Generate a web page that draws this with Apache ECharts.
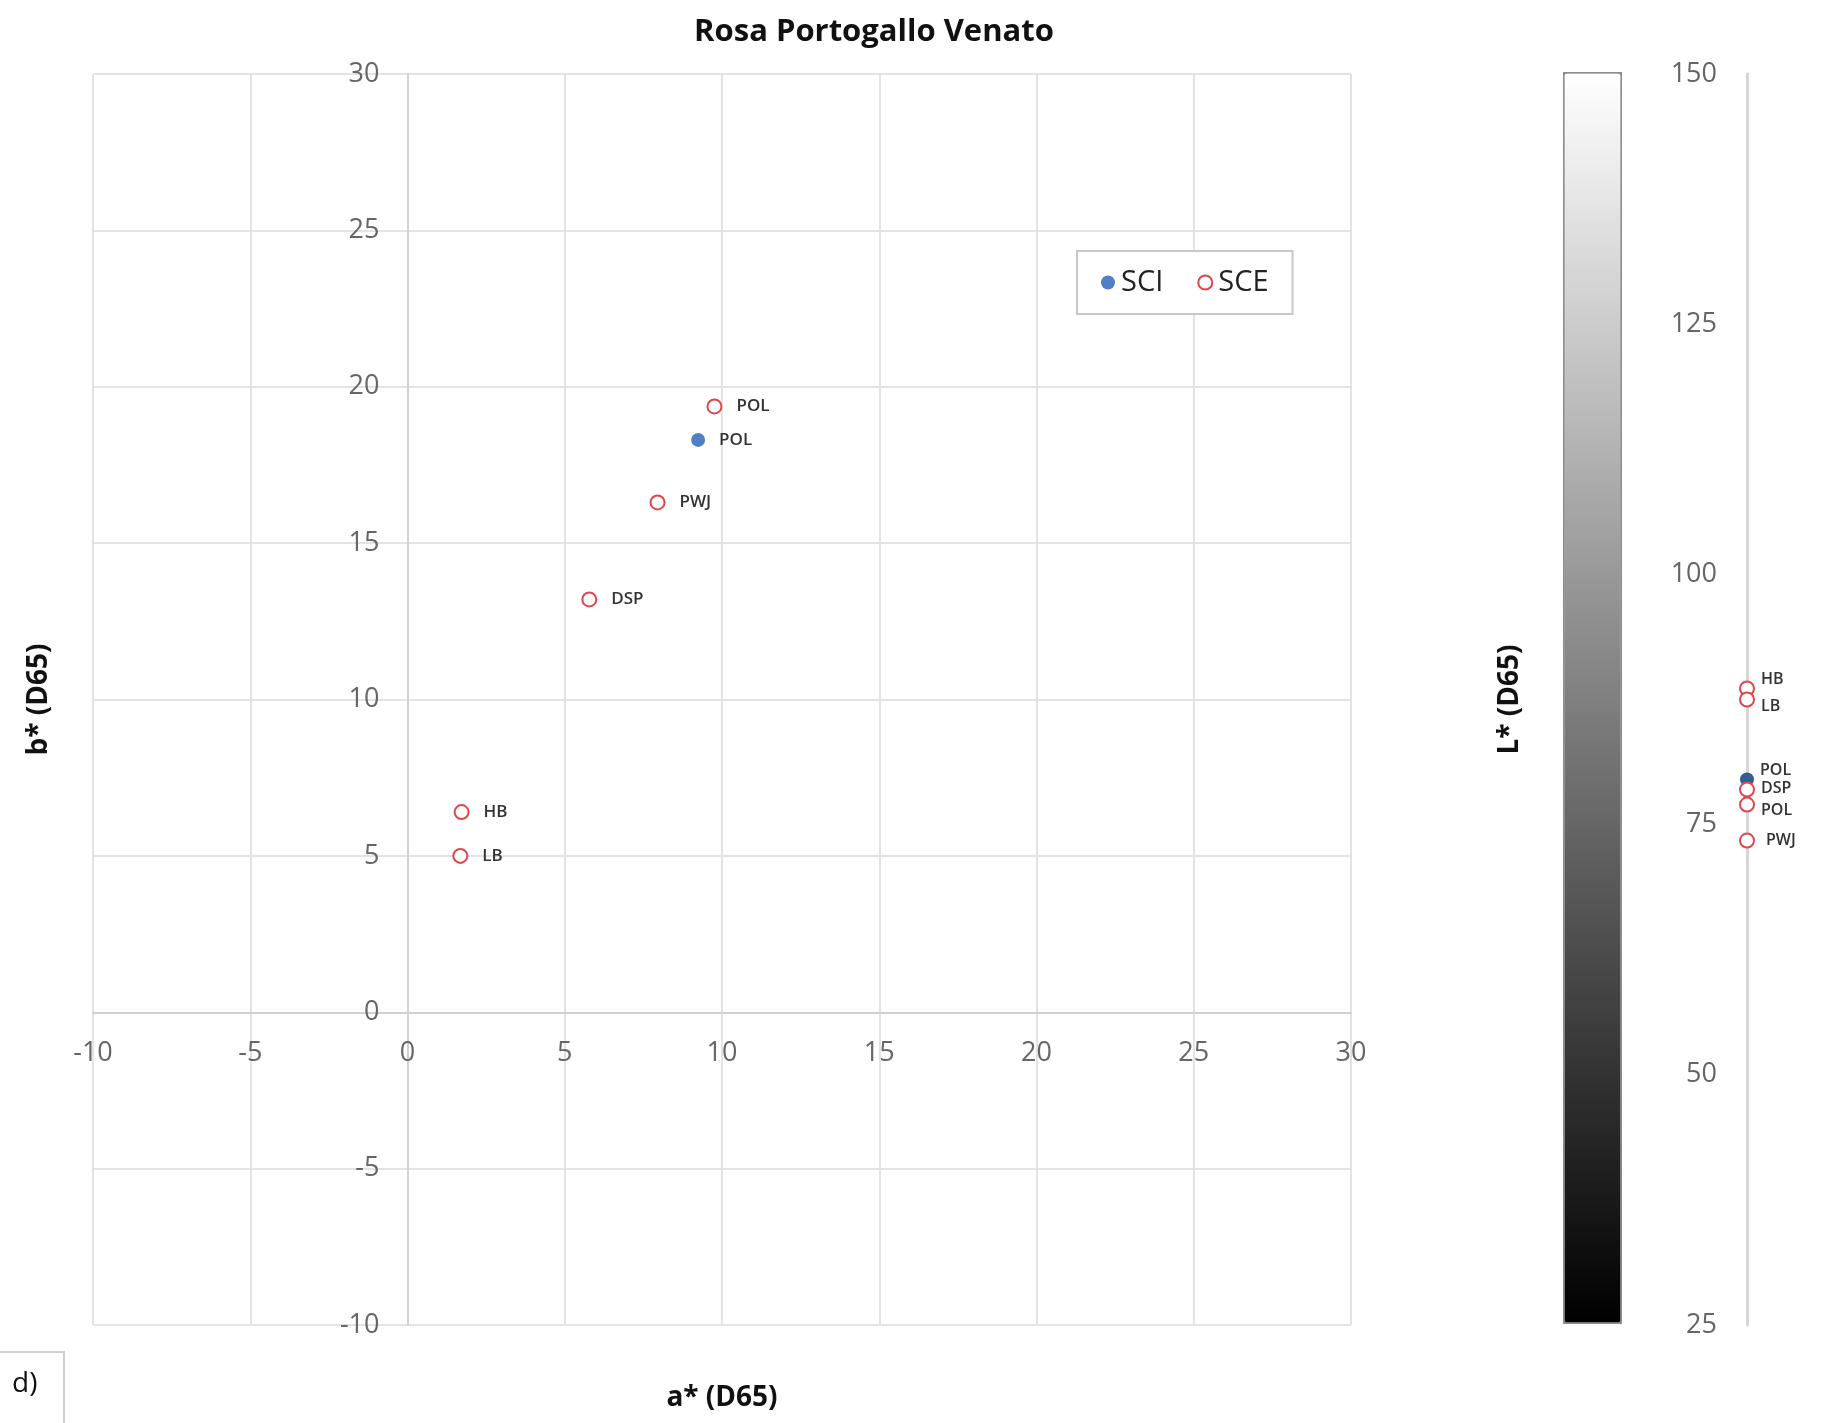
<!DOCTYPE html>
<html>
<head>
<meta charset="utf-8">
<script src="https://cdn.jsdelivr.net/npm/echarts@6/dist/echarts.min.js"></script>
<style>
html,body{margin:0;padding:0;background:#fff;}
#chart{width:1822px;height:1423px;}
</style>
</head>
<body>
<div id="chart"></div>
<script>
// ---- data ----
var sciLabels = ['POL'];
var sciA = [9.24];
var sciB = [18.3];
var sciL = [79.5];

var sceLabels = ['POL', 'PWJ', 'DSP', 'HB', 'LB'];
var sceA = [9.76, 7.95, 5.78, 1.72, 1.68];
var sceB = [19.37, 16.3, 13.2, 6.4, 5.0];
var sceL = [77.0, 73.4, 78.5, 88.6, 87.5];

var abTicks = [-10, -5, 0, 5, 10, 15, 20, 25, 30];
var lTicks = [25, 50, 75, 100, 125, 150];

// ---- styles (label offsets on the L* axis) ----
var sciLShift = {POL: [0, -9]};
var sceLShift = {POL: [0, 6], PWJ: [5, 0], DSP: [0, -1], HB: [0, -9], LB: [0, 7]};

var FONT = '"Open Sans", sans-serif';
var RED = '#e0474c';
var BLUE = '#4f7fc4';

// layout of the a*/b* plot (pixels)
var G_LEFT = 93, G_RIGHT = 471, G_TOP = 74, G_BOTTOM = 98, W = 1822, H = 1423;
var plotW = W - G_LEFT - G_RIGHT, plotH = H - G_TOP - G_BOTTOM;
var aMin = abTicks[0], aMax = abTicks[abTicks.length - 1];
// axes crossing at zero: shift axis lines in from the grid edges
var yAxisShift = -plotW * (0 - aMin) / (aMax - aMin);
var xAxisShift = -plotH * (0 - aMin) / (aMax - aMin);

function abData(labels, a, b) {
  return labels.map(function (n, i) { return {value: [a[i], b[i]], name: n}; });
}
function lData(labels, l, shift) {
  return labels.map(function (n, i) {
    return {value: [0, l[i]], name: n, label: {offset: shift[n] || [0, 0]}};
  });
}

var ptLabel = {
  show: true, position: 'right', distance: 14,
  formatter: function (p) { return p.name; },
  fontFamily: FONT, fontSize: 17, fontWeight: 600, color: '#333'
};
var lLabel = {
  show: true, position: 'right', distance: 6,
  formatter: function (p) { return p.name; },
  fontFamily: FONT, fontSize: 16, fontWeight: 600, color: '#333'
};

var chart = echarts.init(document.getElementById('chart'));
chart.setOption({
  backgroundColor: '#fff',
  animation: false,
  title: {
    text: 'Rosa Portogallo Venato', left: 869, textAlign: 'center', top: 12,
    textStyle: {fontFamily: FONT, fontSize: 31, fontWeight: 'bold', color: '#111'}
  },
  legend: {
    data: ['SCI', 'SCE'],
    left: 1077, top: 251,
    padding: [17, 24, 17, 24],
    itemGap: 34, itemWidth: 16, itemHeight: 14,
    borderColor: '#c8c8c8', borderWidth: 2, backgroundColor: '#fff',
    textStyle: {fontFamily: FONT, fontSize: 29, color: '#222'}
  },
  grid: [
    {left: G_LEFT, right: G_RIGHT, top: G_TOP, bottom: G_BOTTOM, containLabel: false, outerBoundsMode: 'none'},
    {left: 1743, width: 8, top: 74, bottom: 98, containLabel: false, outerBoundsMode: 'none'}
  ],
  xAxis: [
    {
      type: 'value', gridIndex: 0, min: aMin, max: aMax, interval: 5,
      position: 'bottom', offset: xAxisShift,
      name: 'a* (D65)', nameLocation: 'middle', nameGap: 372,
      nameTextStyle: {fontFamily: FONT, fontSize: 28, fontWeight: 'bold', color: '#111'},
      axisLine: {onZero: false, lineStyle: {color: '#d0d0d0', width: 2}},
      axisTick: {show: false},
      axisLabel: {margin: 28, fontFamily: FONT, fontSize: 27, color: '#666'},
      splitLine: {show: true, lineStyle: {color: '#e3e3e3', width: 2}}
    },
    {
      type: 'value', gridIndex: 1, min: -1, max: 1,
      show: false
    }
  ],
  yAxis: [
    {
      type: 'value', gridIndex: 0, min: aMin, max: aMax, interval: 5,
      position: 'left', offset: yAxisShift,
      name: 'b* (D65)', nameLocation: 'middle', nameGap: 354,
      nameTextStyle: {fontFamily: FONT, fontSize: 28, fontWeight: 'bold', color: '#111'},
      axisLine: {onZero: false, lineStyle: {color: '#d0d0d0', width: 2}},
      axisTick: {show: false},
      axisLabel: {margin: 28, fontFamily: FONT, fontSize: 27, color: '#666'},
      splitLine: {show: true, lineStyle: {color: '#e3e3e3', width: 2}}
    },
    {
      type: 'value', gridIndex: 1, min: lTicks[0], max: lTicks[lTicks.length - 1], interval: 25,
      name: 'L* (D65)', nameLocation: 'middle', nameGap: 219,
      nameTextStyle: {fontFamily: FONT, fontSize: 28, fontWeight: 'bold', color: '#111'},
      axisLine: {show: true, lineStyle: {color: '#d6d6d6', width: 3}},
      axisTick: {show: false},
      axisLabel: {margin: 26, fontFamily: FONT, fontSize: 27, color: '#666'},
      splitLine: {show: false}
    }
  ],
  visualMap: {
    type: 'continuous',
    min: lTicks[0], max: lTicks[lTicks.length - 1],
    seriesIndex: 4,
    calculable: false,
    left: 1563, top: 72,
    itemWidth: 56, itemHeight: 1249,
    padding: 0,
    borderColor: '#8c8c8c', borderWidth: 3,
    inRange: {color: ['#000000', '#ffffff']},
    text: null,
    showLabel: false
  },
  series: [
    {
      name: 'SCI', type: 'scatter', xAxisIndex: 0, yAxisIndex: 0,
      symbol: 'circle', symbolSize: 14,
      itemStyle: {color: BLUE, opacity: 1},
      label: ptLabel,
      data: abData(sciLabels, sciA, sciB), z: 3
    },
    {
      name: 'SCE', type: 'scatter', xAxisIndex: 0, yAxisIndex: 0,
      symbol: 'emptyCircle', symbolSize: 14,
      itemStyle: {color: RED, borderWidth: 2, opacity: 1},
      label: ptLabel,
      data: abData(sceLabels, sceA, sceB), z: 4
    },
    {
      name: 'SCI', type: 'scatter', xAxisIndex: 1, yAxisIndex: 1,
      symbol: 'circle', symbolSize: 14,
      itemStyle: {color: '#2f5f96', opacity: 1},
      label: lLabel,
      data: lData(sciLabels, sciL, sciLShift), z: 3
    },
    {
      name: 'SCE', type: 'scatter', xAxisIndex: 1, yAxisIndex: 1,
      symbol: 'emptyCircle', symbolSize: 14,
      itemStyle: {color: RED, borderWidth: 2, opacity: 1},
      label: lLabel,
      data: lData(sceLabels, sceL, sceLShift), z: 4
    },
    {
      name: 'colorbar', type: 'scatter', xAxisIndex: 1, yAxisIndex: 1,
      data: [], silent: true
    }
  ],
  graphic: [
    {
      type: 'polyline', silent: true,
      shape: {points: [[0, 1352], [64, 1352], [64, 1423]]},
      style: {stroke: '#cfcfcf', lineWidth: 2, fill: null}
    },
    {
      type: 'text', left: 12, top: 1370, silent: true,
      style: {text: 'd)', font: '28px "Open Sans", sans-serif', fill: '#111'}
    }
  ]
});
</script>
</body>
</html>
